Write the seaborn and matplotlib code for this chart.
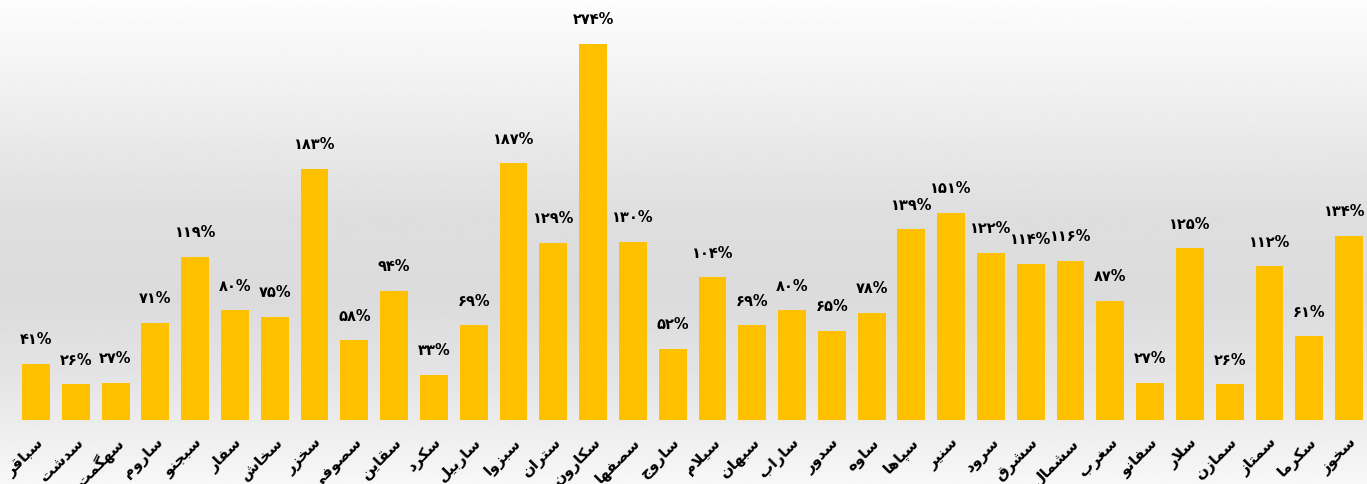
import numpy as np
import pandas as pd
import seaborn as sns
import matplotlib.pyplot as plt

# داده ها
names = ["سباقر", "سدشت", "سهگمت", "ساروم", "سبجنو", "سفار", "سخاش", "سخزر",
         "سصوفی", "سقاین", "سکرد", "ساربیل", "سبزوا", "ستران", "سکارون", "سصفها",
         "ساروج", "سیلام", "سبهان", "ساراب", "سدور", "ساوه", "سپاها", "سنیر",
         "سرود", "سشرق", "سشمال", "سغرب", "سفانو", "سلار", "سمازن", "سمتاز",
         "سکرما", "سخوز"]
values = [41, 26, 27, 71, 119, 80, 75, 183, 58, 94, 33, 69, 187, 129, 274, 130,
          52, 104, 69, 80, 65, 78, 139, 151, 122, 114, 116, 87, 27, 125, 26, 112,
          61, 134]

# presentation forms: isolated, final, initial, medial
forms = {
    'ا': ('\uFE8D', '\uFE8E', None, None),
    'ب': ('\uFE8F', '\uFE90', '\uFE91', '\uFE92'),
    'پ': ('\uFB56', '\uFB57', '\uFB58', '\uFB59'),
    'ت': ('\uFE95', '\uFE96', '\uFE97', '\uFE98'),
    'ج': ('\uFE9D', '\uFE9E', '\uFE9F', '\uFEA0'),
    'خ': ('\uFEA5', '\uFEA6', '\uFEA7', '\uFEA8'),
    'د': ('\uFEA9', '\uFEAA', None, None),
    'ر': ('\uFEAD', '\uFEAE', None, None),
    'ز': ('\uFEAF', '\uFEB0', None, None),
    'س': ('\uFEB1', '\uFEB2', '\uFEB3', '\uFEB4'),
    'ش': ('\uFEB5', '\uFEB6', '\uFEB7', '\uFEB8'),
    'ص': ('\uFEB9', '\uFEBA', '\uFEBB', '\uFEBC'),
    'غ': ('\uFECD', '\uFECE', '\uFECF', '\uFED0'),
    'ف': ('\uFED1', '\uFED2', '\uFED3', '\uFED4'),
    'ق': ('\uFED5', '\uFED6', '\uFED7', '\uFED8'),
    'ک': ('\uFB8E', '\uFB8F', '\uFB90', '\uFB91'),
    'گ': ('\uFB92', '\uFB93', '\uFB94', '\uFB95'),
    'ل': ('\uFEDD', '\uFEDE', '\uFEDF', '\uFEE0'),
    'م': ('\uFEE1', '\uFEE2', '\uFEE3', '\uFEE4'),
    'ن': ('\uFEE5', '\uFEE6', '\uFEE7', '\uFEE8'),
    'ه': ('\uFEE9', '\uFEEA', '\uFEEB', '\uFEEC'),
    'و': ('\uFEED', '\uFEEE', None, None),
    'ی': ('\uFBFC', '\uFBFD', '\uFBFE', '\uFBFF'),
}

def dual(c):
    return c in forms and forms[c][2] is not None

# matplotlib does no arabic shaping, so pick the joined forms by hand
def shape(word):
    out = []
    i = 0
    while i < len(word):
        c = word[i]
        prev = i > 0 and dual(word[i - 1])
        if c == 'ل' and i + 1 < len(word) and word[i + 1] == 'ا':
            out.append('\uFEFC' if prev else '\uFEFB')
            i += 2
            continue
        nxt = dual(c) and i + 1 < len(word) and word[i + 1] in forms
        f = forms[c]
        if prev and nxt:
            out.append(f[3])
        elif prev:
            out.append(f[1])
        elif nxt:
            out.append(f[2])
        else:
            out.append(f[0])
        i += 1
    return ''.join(reversed(out))

def fa_num(n):
    return str(n).translate(str.maketrans('0123456789', '۰۱۲۳۴۵۶۷۸۹')) + '%'

df = pd.DataFrame({'name': [shape(n) for n in names], 'value': values})

fig = plt.figure(figsize=(13.67, 4.84), dpi=100)

# gradient background
bg = fig.add_axes([0, 0, 1, 1], zorder=0)
stops_y = [0, 0.12, 0.45, 0.62, 0.80, 1.0]
stops_v = [0.99, 0.96, 0.87, 0.86, 0.90, 0.97]
grad = np.interp(np.linspace(0, 1, 300), stops_y, stops_v)
bg.imshow(np.repeat(grad[:, None], 2, axis=1), cmap='gray', vmin=0, vmax=1,
          aspect='auto', extent=[0, 1, 0, 1], origin='upper')
bg.axis('off')

ax = fig.add_axes([0, 1 - 420 / 484, 1, 420 / 484], zorder=1)
ax.patch.set_alpha(0)
sns.barplot(data=df, x='name', y='value', color='#FFC000', saturation=1,
            width=0.7, ax=ax)

for i, v in enumerate(values):
    dx = -3 if i == len(values) - 1 else 0   # keep last label inside the figure
    ax.annotate(fa_num(v), (i, v), xytext=(dx, 12), textcoords='offset points',
                ha='center', va='bottom', fontsize=10.5, fontweight='bold')

ax.set_xlim(-0.905, 33.45)
ax.set_ylim(0, 306)
ax.set_xlabel('')
ax.set_ylabel('')
ax.set_yticks([])
for s in ax.spines.values():
    s.set_visible(False)
ax.tick_params(axis='x', length=0, pad=11)
plt.setp(ax.get_xticklabels(), rotation=45, ha='right', va='top',
         rotation_mode='anchor', fontsize=11, fontweight='bold')

fig.savefig('out.png', dpi=100)
